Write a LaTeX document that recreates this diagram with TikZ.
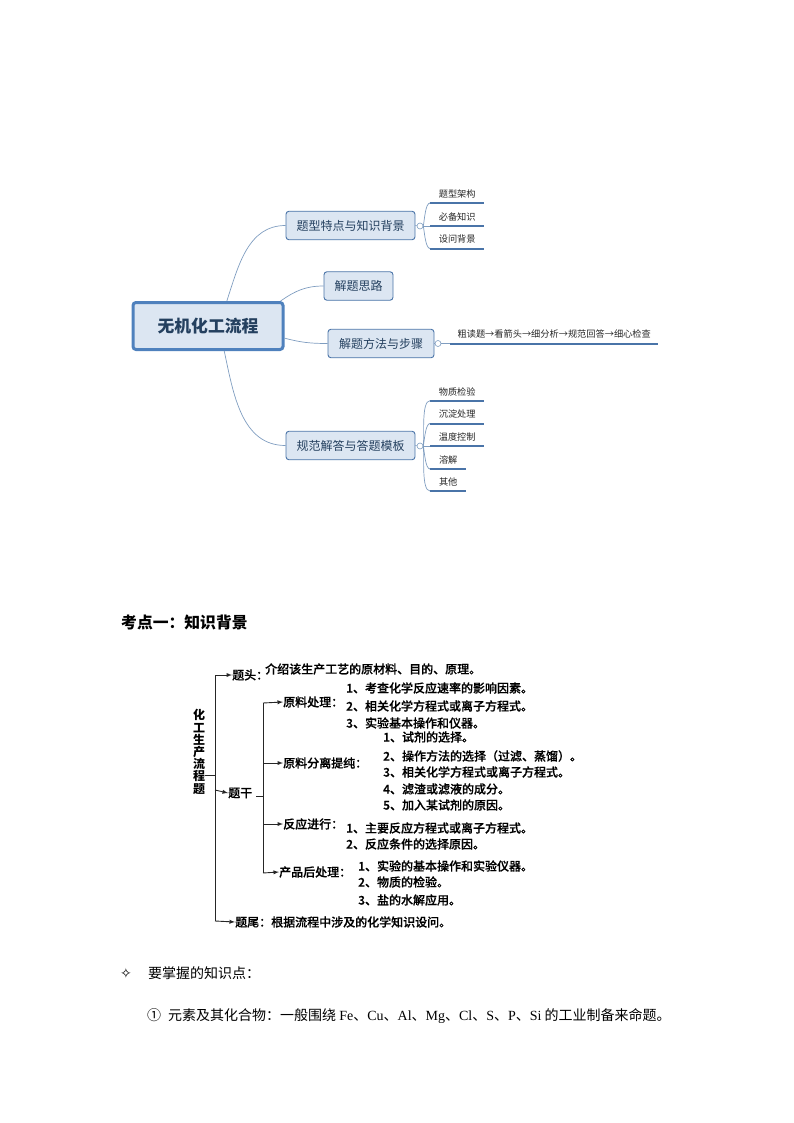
\documentclass[tikz,border=0pt]{standalone}
\usepackage{fontspec}
\setmainfont{Noto Sans CJK SC}
\newfontfamily\mediumfont[FakeBold=.5]{Noto Sans CJK SC Medium}
\newfontfamily\latinfont{Liberation Serif}
\newfontfamily\symbolfont{DejaVu Sans}
\usetikzlibrary{arrows,positioning}
\definecolor{boxfill}{HTML}{DCE6F2}
\definecolor{boxline}{HTML}{4F81BD}
\definecolor{boxtext}{HTML}{24405F}
\definecolor{linkline}{HTML}{7F9DC0}
\definecolor{leafline}{HTML}{4A74A8}
\newcommand{\sizedtext}[1]{\fontsize{#1}{#1}\selectfont}

\begin{document}
\begin{tikzpicture}
%defines
  [x=1pt,y=-1pt,>=latex,
main/.style={rectangle,rounded corners=3pt,draw=boxline,fill=boxfill,line width=3pt,
inner sep=0pt,minimum width=150pt,minimum height=47pt,text=boxtext,font=\sizedtext{16.8}\bfseries},
topic/.style={rectangle,rounded corners=3pt,draw=leafline,fill=boxfill,line width=.9pt,
inner sep=0pt,minimum height=28.5pt,text=boxtext,font=\sizedtext{12}},
toggle/.style={circle,draw=linkline,fill=white,line width=.6pt,inner sep=0pt,minimum size=6pt},
leaf/.style={anchor=south west,inner sep=0pt,minimum width=54pt,minimum height=18pt,
text=black!85,font=\sizedtext{9.2}},
link/.style={draw=linkline,line width=.7pt},
fork/.style={draw=linkline,line width=.7pt,looseness=.5},
under/.style={draw=leafline,line width=2pt},
term/.style={anchor=west,inner sep=0pt,font=\sizedtext{12}\mediumfont},
tree/.style={draw=black!85,line width=.9pt}]
\useasboundingbox (0,0) rectangle (794,1123);
%nodes
\node[main]  (root)   at (208,326)   {无机化工流程};
\node[topic,minimum width=129pt] (feature) at (350.5,225.5) {题型特点与知识背景};
\node[topic,minimum width=69pt]  (idea)    at (358.5,286)   {解题思路};
\node[topic,minimum width=106pt] (method)  at (381,343.5)   {解题方法与步骤};
\node[topic,minimum width=129pt] (answer)  at (350.5,445.5) {规范解答与答题模板};
\node[toggle] (featuretoggle) at (420,226)   {};
\node[toggle] (methodtoggle)  at (438,343.5) {};
\node[toggle] (answertoggle)  at (420,446)   {};
\node[leaf] (frame)   at (430,203)   {题型架构};
\node[leaf] (know)    at (430,226)   {必备知识};
\node[leaf] (ask)     at (430,248.5) {设问背景};
\node[leaf,minimum width=208pt] (steps) at (450,343.5) {粗读题→看箭头→细分析→规范回答→细心检查};
\node[leaf] (check)   at (430,400.7) {物质检验};
\node[leaf] (settle)  at (430,423.5) {沉淀处理};
\node[leaf] (temper)  at (430,446)   {温度控制};
\node[leaf,minimum width=36pt] (dissolve) at (430,469) {溶解};
\node[leaf,minimum width=36pt] (others)   at (430,491) {其他};
\node[term,font=\sizedtext{15.8}\bfseries] (heading) at (121,622) {考点一：知识背景};
\node[inner sep=0pt,align=center,font=\sizedtext{12}\bfseries] (title) at (199,752)
  {化\\[.2pt]工\\[.2pt]生\\[.2pt]产\\[.2pt]流\\[.2pt]程\\[.2pt]题};
\node[term] (head)    at (232,675) {题头：};
\node[term] (headtxt) at (265,669) {介绍该生产工艺的原材料、目的、原理。};
\node[term] (stem)    at (228,793) {题干};
\node[term] (tail)    at (235,922) {题尾：根据流程中涉及的化学知识设问。};
\node[term] (raw)     at (283,702) {原料处理：};
\node[term] (purify)  at (283,763) {原料分离提纯：};
\node[term] (react)   at (283,824) {反应进行：};
\node[term] (product) at (279,872) {产品后处理：};
\node[term] (rawA)    at (346,688) {1、考查化学反应速率的影响因素。};
\node[term] (rawB)    at (346,706) {2、相关化学方程式或离子方程式。};
\node[term] (rawC)    at (346,723) {3、实验基本操作和仪器。};
\node[term] (purifyA) at (383,737) {1、试剂的选择。};
\node[term] (purifyB) at (383,756) {2、操作方法的选择（过滤、蒸馏）。};
\node[term] (purifyC) at (383,772) {3、相关化学方程式或离子方程式。};
\node[term] (purifyD) at (383,789) {4、滤渣或滤液的成分。};
\node[term] (purifyE) at (383,805) {5、加入某试剂的原因。};
\node[term] (reactA)  at (346,828) {1、主要反应方程式或离子方程式。};
\node[term] (reactB)  at (346,844) {2、反应条件的选择原因。};
\node[term] (productA) at (358,866) {1、实验的基本操作和实验仪器。};
\node[term] (productB) at (358,882) {2、物质的检验。};
\node[term] (productC) at (358,900) {3、盐的水解应用。};
\node[term,font=\sizedtext{14}\symbolfont] (bullet) at (120,973) {✧};
\node[term,font=\sizedtext{14}] (must) at (148,973) {要掌握的知识点：};
\node[term,font=\sizedtext{14}] (element) at (147,1016.5)
  {①\hspace{7pt}元素及其化合物：一般围绕 {\latinfont Fe}、{\latinfont Cu}、{\latinfont Al}、{\latinfont Mg}、{\latinfont Cl}、{\latinfont S}、{\latinfont P}、{\latinfont Si} 的工业制备来命题。};
\coordinate (trunktop) at (215,675);
\coordinate (trunkmid) at (215,775);
\coordinate (trunkstem) at (215,790);
\coordinate (trunkend) at (215,921);
\coordinate (stemout) at (256,796);
\coordinate (branchjoin) at (263,796);
\coordinate (branchtop) at (263,703);
\coordinate (branchtwo) at (263,763);
\coordinate (branchthree) at (263,824);
\coordinate (branchend) at (263,873);
%links
\draw [link] (root.53)  to [out=72,in=180] (feature.west);
\draw [link] (root.19)  to [out=35,in=180] (idea.west);
\draw [link] (root.-9)  to [out=-15,in=180] (method.west);
\draw [link] (root.-57) to [out=-78,in=180] (answer.west);
\draw [link] (feature.east) -- (featuretoggle);
\draw [link] (method.east)  -- (methodtoggle);
\draw [link] (answer.east)  -- (answertoggle);
\draw [fork] (featuretoggle.east) to [out=78,in=180] (frame.south west);
\draw [link] (featuretoggle.east) -- (know.south west);
\draw [fork] (featuretoggle.east) to [out=-78,in=180] (ask.south west);
\draw [link] (methodtoggle.east)  -- (steps.south west);
\draw [fork] (answertoggle.east)  to [out=82,in=180] (check.south west);
\draw [fork] (answertoggle.east)  to [out=78,in=180] (settle.south west);
\draw [link] (answertoggle.east)  -- (temper.south west);
\draw [fork] (answertoggle.east)  to [out=-78,in=180] (dissolve.south west);
\draw [fork] (answertoggle.east)  to [out=-82,in=180] (others.south west);
\draw [under] (frame.south west)    -- (frame.south east);
\draw [under] (know.south west)     -- (know.south east);
\draw [under] (ask.south west)      -- (ask.south east);
\draw [under] (steps.south west)    -- (steps.south east);
\draw [under] (check.south west)    -- (check.south east);
\draw [under] (settle.south west)   -- (settle.south east);
\draw [under] (temper.south west)   -- (temper.south east);
\draw [under] (dissolve.south west) -- (dissolve.south east);
\draw [under] (others.south west)   -- (others.south east);
\draw [tree] (trunktop) -- (trunkend);
\draw [tree] (trunkmid -| title.east) -- (trunkmid);
\draw [tree,->] (trunktop) -- (head.west);
\draw [tree,->] (trunkstem) -- (stem.west);
\draw [tree,->] (trunkend) -- (tail.west);
\draw [tree] (stemout) -- (branchjoin);
\draw [tree] (branchtop) -- (branchend);
\draw [tree,->] (branchtop) -- (raw.west);
\draw [tree,->] (branchtwo) -- (purify.west);
\draw [tree,->] (branchthree) -- (react.west);
\draw [tree,->] (branchend) -- (product.west);
\end{tikzpicture}
\end{document}
